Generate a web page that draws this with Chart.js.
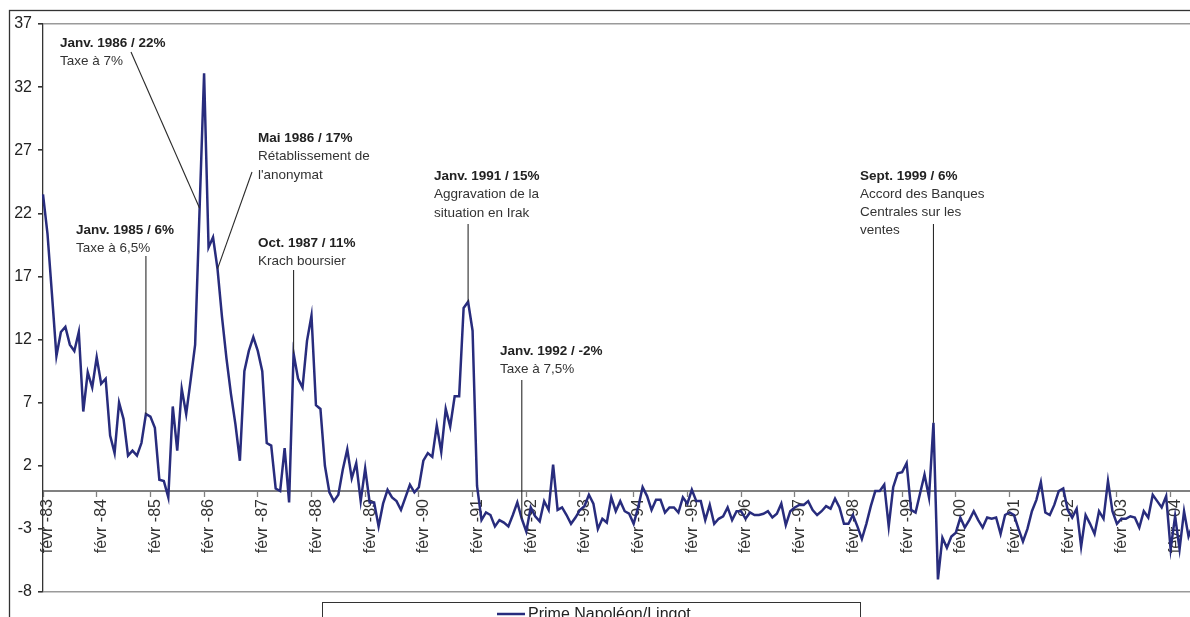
<!DOCTYPE html>
<html>
<head>
<meta charset="utf-8">
<script src="https://cdn.jsdelivr.net/npm/chart.js@4/dist/chart.umd.min.js"></script>
<style>
  html, body { margin: 0; padding: 0; background: #fff; width: 1190px; height: 617px; overflow: hidden; }
  #wrap { position: relative; width: 1200px; height: 617px; }
</style>
</head>
<body>
<div id="wrap"><canvas id="c" width="1200" height="617"></canvas></div>
<script>
// ---- Data ----
const seriesName = 'Prime Napoléon/Lingot';
const monthNames = ['janv', 'févr', 'mars', 'avr', 'mai', 'juin', 'juil', 'août', 'sept', 'oct', 'nov', 'déc'];
const startYear = 1983;
const startMonth = 1; // févr
const yTickValues = [-8, -3, 2, 7, 12, 17, 22, 27, 32, 37];

// Monthly premium (%), Feb 1983 -> Jul 2004
const premium = [
  23.5, 20.4, 15.6, 10.7, 12.6, 13.0, 11.6, 11.1, 12.6, 6.3, 9.4, 8.2,
  10.6, 8.5, 8.9, 4.4, 3.0, 7.0, 5.7, 2.8, 3.2, 2.8, 3.8, 6.1,
  5.9, 5.0, 0.9, 0.8, -0.5, 6.7, 3.2, 8.1, 6.1, 8.8, 11.6, 22.4,
  33.1, 19.3, 20.1, 17.6, 13.8, 10.5, 7.7, 5.3, 2.4, 9.5, 11.1, 12.2,
  11.1, 9.5, 3.8, 3.6, 0.2, 0.0, 3.4, -0.9, 10.9, 8.9, 8.2, 11.9,
  13.9, 6.8, 6.5, 2.0, -0.1, -0.8, -0.3, 1.7, 3.3, 1.0, 2.2, -0.8,
  1.8, -0.9, -0.9, -2.8, -1.0, 0.1, -0.5, -0.8, -1.5, -0.5, 0.5, -0.1,
  0.3, 2.4, 3.0, 2.7, 5.2, 3.1, 6.5, 5.1, 7.5, 7.5, 14.5, 15.0,
  12.7, 0.4, -2.3, -1.7, -1.9, -2.8, -2.3, -2.5, -2.8, -1.9, -0.9, -2.2,
  -3.2, -1.3, -2.0, -2.4, -0.8, -1.5, 2.1, -1.5, -1.3, -1.9, -2.6, -2.1,
  -1.5, -1.2, -0.3, -1.0, -3.0, -2.2, -2.5, -0.5, -1.6, -0.8, -1.6, -1.8,
  -2.6, -1.3, 0.3, -0.4, -1.5, -0.7, -0.7, -1.7, -1.3, -1.3, -1.7, -0.5,
  -1.0, 0.1, -0.8, -0.8, -2.3, -1.1, -2.6, -2.2, -2.0, -1.3, -2.3, -1.6,
  -1.6, -2.2, -1.7, -1.9, -1.9, -1.8, -1.6, -2.1, -1.8, -1.0, -2.7, -1.6,
  -1.3, -1.1, -1.1, -0.8, -1.5, -1.9, -1.6, -1.2, -1.4, -0.6, -1.3, -2.6,
  -2.6, -1.9, -2.8, -3.8, -2.6, -1.2, 0.0, 0.0, 0.5, -2.8, 0.3, 1.4,
  1.5, 2.2, -1.5, -1.7, -0.2, 1.3, -0.5, 5.4, -7.0, -3.7, -4.5, -3.6,
  -3.3, -2.1, -2.9, -2.3, -1.6, -2.3, -2.9, -2.1, -2.2, -2.1, -3.4, -1.9,
  -1.7, -1.9, -3.0, -4.0, -3.0, -1.6, -0.7, 0.7, -1.7, -1.9, -1.1, 0.0,
  0.2, -1.5, -2.1, -1.4, -4.4, -1.9, -2.6, -3.4, -1.6, -2.2, 0.8, -1.6,
  -2.6, -2.2, -2.2, -2.0, -2.1, -2.9, -1.6, -2.1, -0.3, -0.8, -1.3, -0.4,
  -4.6, -2.0, -4.6, -1.6, -3.6, -2.6
];

// Category labels, e.g. "févr -83"
const categories = premium.map((_, i) => {
  const mi = startMonth + i;
  const yr = startYear + Math.floor(mi / 12);
  return monthNames[mi % 12] + ' -' + String(yr % 100).padStart(2, '0');
});

// Event annotations (index into series; text and label anchor)
const annotations = [
  { index: 35, title: 'Janv. 1986 / 22%', text: ['Taxe à 7%'], tx: 60, ty: 47, from: [131, 52] },
  { index: 23, title: 'Janv. 1985 / 6%', text: ['Taxe à 6,5%'], tx: 76, ty: 233.5, fromY: 256 },
  { index: 39, title: 'Mai 1986 / 17%', text: ['Rétablissement de', "l'anonymat"], tx: 258, ty: 142, from: [252, 172] },
  { index: 56, title: 'Oct. 1987 / 11%', text: ['Krach boursier'], tx: 258, ty: 246.5, fromY: 270 },
  { index: 95, title: 'Janv. 1991 / 15%', text: ['Aggravation de la', 'situation en Irak'], tx: 434, ty: 180, fromY: 224 },
  { index: 107, title: 'Janv. 1992 / -2%', text: ['Taxe à 7,5%'], tx: 500, ty: 355, fromY: 380 },
  { index: 199, title: 'Sept. 1999 / 6%', text: ['Accord des Banques', 'Centrales sur les', 'ventes'], tx: 860, ty: 179.5, fromY: 224 }
];

const FONT = '"Liberation Sans", Arial, Helvetica, sans-serif';
const lineColor = '#282C7D';

const decorPlugin = {
  id: 'decor',
  beforeDraw(chart) {
    const ctx = chart.ctx;
    ctx.save();
    ctx.fillStyle = '#fff';
    ctx.fillRect(0, 0, chart.width, chart.height);
    ctx.strokeStyle = '#333';
    ctx.lineWidth = 1.3;
    ctx.strokeRect(9.5, 10.5, chart.width + 20, chart.height + 20);
    ctx.restore();
  },
  afterDraw(chart) {
    const ctx = chart.ctx;
    const xs = chart.scales.x, ys = chart.scales.y;
    ctx.save();
    annotations.forEach(a => {
      const px = xs.getPixelForValue(a.index);
      const py = ys.getPixelForValue(premium[a.index]);
      ctx.strokeStyle = '#2a2a2a';
      ctx.lineWidth = 1.1;
      ctx.beginPath();
      if (a.from) { ctx.moveTo(a.from[0], a.from[1]); }
      else { ctx.moveTo(px, a.fromY); }
      ctx.lineTo(px, py);
      ctx.stroke();
      ctx.textAlign = 'left';
      ctx.textBaseline = 'alphabetic';
      ctx.fillStyle = '#222';
      ctx.font = 'bold 13.5px ' + FONT;
      ctx.fillText(a.title, a.tx, a.ty);
      ctx.font = '13.5px ' + FONT;
      ctx.fillStyle = '#333';
      a.text.forEach((t, k) => ctx.fillText(t, a.tx, a.ty + 18.3 * (k + 1)));
    });
    // legend box
    ctx.strokeStyle = '#333';
    ctx.lineWidth = 1;
    ctx.strokeRect(322.5, 602.5, 538, 40);
    ctx.strokeStyle = lineColor;
    ctx.lineWidth = 2.5;
    ctx.beginPath();
    ctx.moveTo(497, 614);
    ctx.lineTo(525, 614);
    ctx.stroke();
    ctx.fillStyle = '#222';
    ctx.font = '16px ' + FONT;
    ctx.textAlign = 'left';
    ctx.fillText(chart.data.datasets[0].label, 528, 619);
    ctx.restore();
  }
};

new Chart(document.getElementById('c'), {
  type: 'line',
  data: {
    labels: categories,
    datasets: [{
      label: seriesName,
      data: premium,
      borderColor: lineColor,
      borderWidth: 2.5,
      pointRadius: 0,
      tension: 0,
      fill: false
    }]
  },
  options: {
    responsive: false,
    animation: false,
    layout: { padding: { left: 0, right: 7, top: 24, bottom: 25 } },
    plugins: { legend: { display: false }, tooltip: { enabled: false } },
    scales: {
      x: {
        type: 'category',
        position: { y: 0 },
        offset: false,
        afterFit(s) { s.height = 0; },
        grid: { drawOnChartArea: false, drawTicks: true, tickLength: 5, color: '#808080', tickColor: '#808080', tickWidth: 1.3 },
        border: { display: true, color: '#808080', width: 2 },
        ticks: {
          autoSkip: false, minRotation: 90, maxRotation: 90, padding: 3, labelOffset: 5,
          color: '#333', font: { family: FONT, size: 16 },
          callback: (v, i) => (i % 12 === 0 ? categories[i] : null)
        }
      },
      y: {
        min: -8, max: 37,
        afterBuildTicks(s) { s.ticks = yTickValues.map(v => ({ value: v })); },
        afterFit(s) { s.width = 43; },
        grid: {
          drawTicks: true, tickLength: 5, tickColor: '#333',
          color: c => (c.tick && (c.tick.value === 37 || c.tick.value === -8)) ? '#9a9a9a' : 'rgba(0,0,0,0)',
          lineWidth: 1.6
        },
        border: { display: true, color: '#333', width: 1.3 },
        ticks: { padding: 6, color: '#222', font: { family: FONT, size: 16 } }
      }
    }
  },
  plugins: [decorPlugin]
});
</script>
</body>
</html>
